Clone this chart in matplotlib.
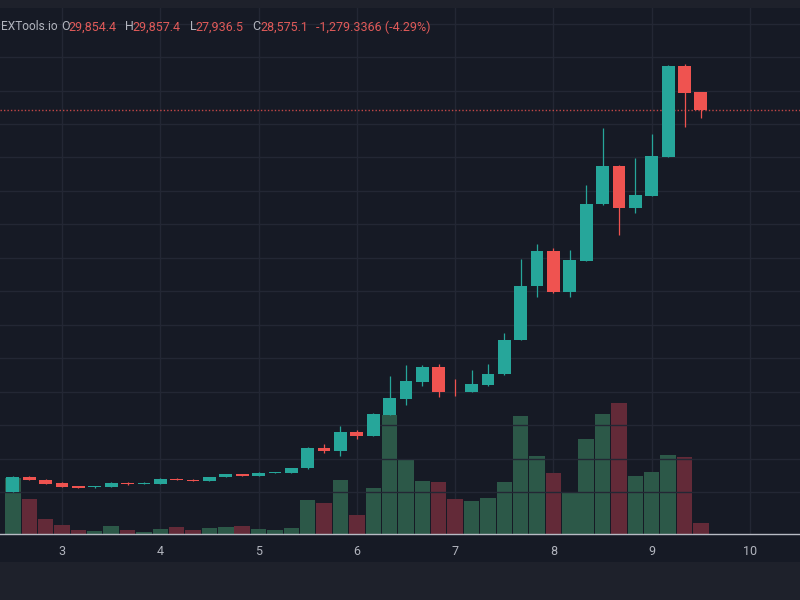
import matplotlib
matplotlib.use("Agg")
import matplotlib.pyplot as plt
import numpy as np
from matplotlib.patches import Rectangle

plt.rcParams['font.family'] = ['Roboto', 'DejaVu Sans']

# candles, one every 1/6 of an axis unit starting at 2.5
opens = [20, 1130, 950, 730, 500, 380, 440, 730, 610, 650,
         1030, 950, 870, 1140, 1380, 1250, 1460, 1430, 1790, 3340,
         3120, 4510, 4220, 5800, 6980, 8270, 9340, 7590, 7530, 8020,
         8830, 11390, 15430, 18020, 14940, 17280, 21510, 24390, 21210, 22150,
         25060, 31830, 29854.4]
highs = [1250, 1250, 980, 750, 520, 500, 760, 760, 750, 1060,
         1050, 970, 1170, 1380, 1400, 1500, 1530, 1830, 3380, 3600,
         4980, 4660, 5930, 8690, 9490, 9490, 9590, 8450, 9140, 9570,
         11880, 17430, 18520, 18230, 18100, 22950, 27180, 24450, 24940, 26750,
         31870, 31980, 29857.4]
lows = [10, 900, 640, 420, 330, 360, 420, 590, 600, 640,
        920, 840, 860, 1120, 1240, 1240, 1450, 1420, 1740, 2970,
        2750, 3970, 4180, 5780, 6510, 7950, 7150, 7200, 7500, 7980,
        8800, 11350, 14610, 14920, 14570, 17250, 21490, 19220, 20880, 22120,
        25020, 27250, 27936.5]
closes = [1180, 930, 660, 430, 360, 480, 730, 610, 730, 1030,
          930, 860, 1150, 1360, 1250, 1480, 1510, 1800, 3340, 3100,
          4490, 4220, 5860, 7030, 8340, 9340, 7520, 7560, 8100, 8820,
          11380, 15430, 18020, 14940, 17350, 21510, 24390, 21210, 22200, 25130,
          31830, 29850, 28575.1]
volumes = [56, 35, 15, 9, 4, 3, 8, 4, 2, 5,
           7, 4, 6, 7, 8, 5, 4, 6, 34, 31,
           54, 19, 46, 119, 74, 53, 52, 35, 33, 36,
           52, 118, 78, 61, 42, 95, 120, 131, 58, 62,
           79, 77, 11]
tick_vals = [3, 4, 5, 6, 7, 8, 9, 10]
symbol = "EXTools.io"
change_txt = "-1,279.3366 (-4.29%)"

BG = '#161a25'
BAND = '#1e212b'
GRID = '#232734'
UP = '#26a69a'
DOWN = '#ef5350'
VOL_UP = '#2c5848'
VOL_DOWN = '#632a38'
TXT = '#b2b5be'
RED_TXT = '#e05a59'

o = np.array(opens); h = np.array(highs); l = np.array(lows); c = np.array(closes)
n = len(o)
x = 2.5 + np.arange(n) / 6.0
up = c >= o

fig = plt.figure(figsize=(8, 6), dpi=100, facecolor=BG)
# top and bottom bands
fig.patches.append(Rectangle((0, 1 - 8 / 600), 1, 8 / 600, transform=fig.transFigure,
                             facecolor=BAND, edgecolor='none', zorder=0))
fig.patches.append(Rectangle((0, 0), 1, 38 / 600, transform=fig.transFigure,
                             facecolor=BAND, edgecolor='none', zorder=0))

ax = fig.add_axes([0, 66 / 600, 1, 526 / 600])
ax.set_facecolor(BG)
ax.set_xlim(3 - 62 / 98.29, 3 + 738 / 98.29)
ax.set_ylim(30000 - (534 - 90.5) * 74.63, 30000 + (90.5 - 8) * 74.63)

# volume on a twin axis
axv = ax.twinx()
axv.set_ylim(0, 526)
axv.bar(x, volumes, width=0.157, color=np.where(up, VOL_UP, VOL_DOWN), zorder=2)
axv.set_yticks([])
for s in axv.spines.values():
    s.set_visible(False)

ax.set_zorder(axv.get_zorder() + 1)
ax.patch.set_visible(False)
axv.patch.set_visible(True)
axv.set_facecolor(BG)

# grid
for t in tick_vals:
    axv.axvline(t, color=GRID, lw=1, zorder=1)
for p in np.arange(0, 37500, 2500):
    ax.axhline(p, color=GRID, lw=1, zorder=0)

# candles
cols = np.where(up, UP, DOWN)
ax.vlines(x, l, h, colors=cols, lw=0.9, zorder=3)
body_h = np.abs(c - o)
body_h = np.maximum(body_h, 40)
ax.bar(x, body_h, bottom=np.minimum(o, c), width=0.13, color=cols, zorder=4)

# last price line
ax.axhline(closes[-1], color=DOWN, lw=1, ls=(0, (1, 1.5)), alpha=0.8, zorder=2)

ax.set_xticks(tick_vals)
ax.set_xticklabels([str(t) for t in tick_vals])
ax.tick_params(axis='x', length=0, pad=8, colors=TXT, labelsize=9)
ax.set_yticks([])
for side in ['top', 'left', 'right']:
    ax.spines[side].set_visible(False)
ax.spines['bottom'].set_color('#b8bbc4')
ax.spines['bottom'].set_linewidth(1)

# header
yy = 1 - 27 / 600
fs = 9
fig.text(1 / 800, yy, symbol, color=TXT, fontsize=8.6, va='center')
parts = [(61, "O", TXT), (68, "29,854.4", RED_TXT),
         (125, "H", TXT), (132.5, "29,857.4", RED_TXT),
         (190, "L", TXT), (195.5, "27,936.5", RED_TXT),
         (252.5, "C", TXT), (260, "28,575.1", RED_TXT),
         (315.5, change_txt, RED_TXT)]
for px, s, col in parts:
    fig.text(px / 800, yy, s, color=col, fontsize=fs, va='center')

fig.savefig('out.png', dpi=100, facecolor=BG)
